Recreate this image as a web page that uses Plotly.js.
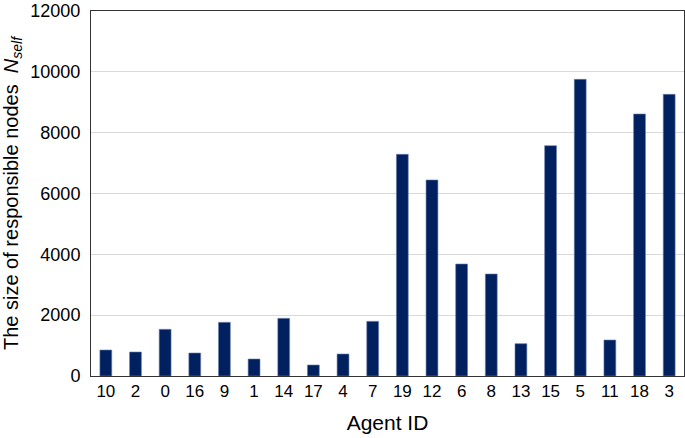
<!DOCTYPE html>
<html>
<head>
<meta charset="utf-8">
<script src="https://cdn.plot.ly/plotly-3.0.1.min.js"></script>
<style>html,body{margin:0;padding:0;background:#fff;}#chart{width:685px;height:438px;}</style>
</head>
<body>
<div id="chart"></div>
<script>
const agentIds = ["10","2","0","16","9","1","14","17","4","7","19","12","6","8","13","15","5","11","18","3"];
const nodeCounts = [855, 789, 1535, 756, 1765, 559, 1896, 362, 723, 1797, 7288, 6444, 3682, 3353, 1063, 7573, 9753, 1184, 8614, 9260];
const yTicks = [0, 2000, 4000, 6000, 8000, 10000, 12000];

const font = "Liberation Sans, Arial, sans-serif";
Plotly.newPlot("chart", [{
  type: "bar",
  x: agentIds,
  y: nodeCounts,
  marker: {color: "#002060", line: {color: "#6b7fa8", width: 0.6}},
  hoverinfo: "x+y"
}], {
  width: 685, height: 438,
  margin: {l: 91, r: 1, t: 11, b: 62},
  paper_bgcolor: "#fff", plot_bgcolor: "#fff",
  bargap: 0.6,
  showlegend: false,
  font: {family: font, color: "#000"},
  xaxis: {
    type: "category",
    showline: true, linecolor: "#333", linewidth: 1, mirror: true,
    showgrid: false, ticks: "",
    tickfont: {size: 17, family: font},
    title: {text: "Agent ID", font: {size: 21, family: font}, standoff: 14}
  },
  yaxis: {
    range: [0, 12000],
    tickvals: yTicks,
    ticktext: yTicks.map(String),
    showline: true, linecolor: "#333", linewidth: 1, mirror: true,
    showgrid: true, gridcolor: "#d9d9d9", gridwidth: 1,
    zeroline: false, ticks: "",
    ticklabelstandoff: 6,
    tickfont: {size: 18, family: font},
    title: {text: "The size of responsible nodes  <i>N</i><sub><i>self</i></sub>", font: {size: 20, family: font}, standoff: 8}
  }
}, {displayModeBar: false, staticPlot: true});
</script>
</body>
</html>
